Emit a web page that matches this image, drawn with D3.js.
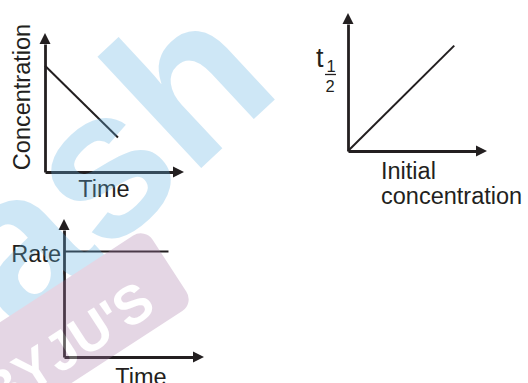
<!DOCTYPE html>
<html lang="en">
<head>
<meta charset="UTF-8">
<title>Zero order reaction plots</title>
<script src="https://d3js.org/d3.v7.min.js"></script>
<style>
    body { margin: 0; background: #fff; }
    svg { display: block; font-family: "Liberation Sans", Arial, sans-serif; }
    .trend { fill: none; stroke: #231f20; stroke-width: 2px; }
    .lbl { font-size: 23.5px; fill: #231f20; }
</style>
</head>
<body>
<svg id="chart" width="528" height="383"></svg>
<script>
    // concentration falls in a straight line with time
    const concTime = [0, 5.7];
    const concValues = [8.3, 2.7];
    // half-life grows with the initial concentration
    const initConc = [0, 8.3];
    const halfLife = [0, 8.3];
    // rate stays the same over time
    const rateTime = [0, 8.1];
    const rateValues = [8.3, 8.3];

    const svg = d3.select("#chart");
    const ink = "#231f20";
    const arrowLen = 11, arrowHalf = 5.5;

    // ox/oy = origin, len = axis length up to the arrow base
    const panels = [
        { xs: concTime, ys: concValues, ox: 45, oy: 172, lenX: 128, lenY: 128 },
        { xs: initConc, ys: halfLife, ox: 348, oy: 151, lenX: 128, lenY: 127 },
        { xs: rateTime, ys: rateValues, ox: 64, oy: 357, lenX: 129, lenY: 127 }
    ];

    panels.forEach(p => {
        const x = d3.scaleLinear().domain([0, 10]).range([p.ox, p.ox + p.lenX]);
        const y = d3.scaleLinear().domain([0, 10]).range([p.oy, p.oy - p.lenY]);
        const g = svg.append("g");

        g.append("g")
            .attr("transform", `translate(0,${p.oy})`)
            .attr("color", ink)
            .call(d3.axisBottom(x).tickValues([]).tickSizeOuter(0))
            .select(".domain").attr("stroke-width", 2.8);

        g.append("g")
            .attr("transform", `translate(${p.ox},0)`)
            .attr("color", ink)
            .call(d3.axisLeft(y).tickValues([]).tickSizeOuter(0))
            .select(".domain").attr("stroke-width", 2.8);

        // arrow heads
        const xe = x(10), ye = y(10);
        g.append("path")
            .attr("d", `M${xe},${p.oy - arrowHalf}L${xe + arrowLen},${p.oy}L${xe},${p.oy + arrowHalf}Z`)
            .attr("fill", ink);
        g.append("path")
            .attr("d", `M${p.ox - arrowHalf},${ye}L${p.ox},${ye - arrowLen}L${p.ox + arrowHalf},${ye}Z`)
            .attr("fill", ink);

        const line = d3.line().x(d => x(d[0])).y(d => y(d[1]));
        g.append("path")
            .datum(d3.zip(p.xs, p.ys))
            .attr("class", "trend")
            .attr("d", line);
    });

    // axis titles
    svg.append("text").attr("class", "lbl")
        .attr("transform", "translate(30,97) rotate(-90)")
        .attr("text-anchor", "middle")
        .text("Concentration");
    svg.append("text").attr("class", "lbl")
        .attr("x", 104).attr("y", 197)
        .attr("text-anchor", "middle")
        .text("Time");

    svg.append("text").attr("x", 316).attr("y", 66.5)
        .attr("font-size", 27).attr("fill", ink)
        .text("t");
    svg.append("text").attr("x", 326.5).attr("y", 72)
        .attr("font-size", 16.5).attr("fill", ink)
        .text("1");
    svg.append("line")
        .attr("x1", 325).attr("x2", 336).attr("y1", 74.5).attr("y2", 74.5)
        .attr("stroke", ink).attr("stroke-width", 1.3);
    svg.append("text").attr("x", 325.5).attr("y", 92)
        .attr("font-size", 16.5).attr("fill", ink)
        .text("2");
    svg.append("text").attr("class", "lbl")
        .attr("x", 381).attr("y", 179)
        .text("Initial");
    svg.append("text").attr("class", "lbl")
        .attr("x", 381).attr("y", 204)
        .text("concentration");

    svg.append("text").attr("class", "lbl")
        .attr("x", 61).attr("y", 262)
        .attr("text-anchor", "end")
        .text("Rate");
    svg.append("text").attr("class", "lbl")
        .attr("x", 141).attr("y", 385)
        .attr("text-anchor", "middle")
        .text("Time");

    // faint watermark laid over the plots
    const wm = svg.append("g").attr("opacity", 0.3).attr("pointer-events", "none");
    wm.append("text")
        .attr("transform", "translate(-262,600) rotate(-43)")
        .attr("font-size", 210).attr("font-weight", "bold")
        .attr("fill", "#61b1e2")
        .text("Aakash");
    const badge = wm.append("g").attr("transform", "translate(145,228) rotate(-33)");
    badge.append("rect")
        .attr("x", -280).attr("y", 0).attr("width", 280).attr("height", 90)
        .attr("rx", 14).attr("fill", "#a879a8");
    badge.append("text")
        .attr("x", -34).attr("y", 76)
        .attr("text-anchor", "end")
        .attr("font-size", 54).attr("font-weight", "bold")
        .attr("fill", "#fff")
        .text("BYJU'S");
</script>
</body>
</html>
